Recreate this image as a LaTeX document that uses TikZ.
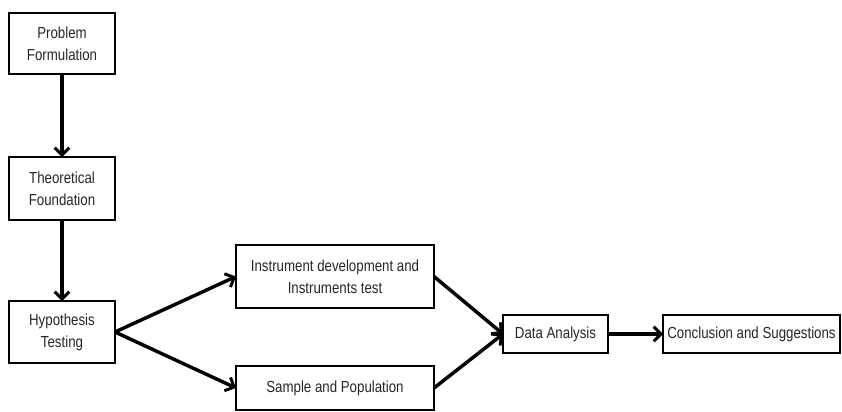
\documentclass[tikz,border=0pt]{standalone}
\usepackage{fontspec}
\setmainfont{Liberation Sans}[FakeStretch=0.83]
\usetikzlibrary{arrows.meta}
\tikzset{
  stage/.style={draw, line width=1.1pt, inner sep=0pt, outer sep=0pt, align=center,
    font=\fontsize{12}{16.5}\selectfont, text=black!85},
  flow/.style={-{Straight Barb[length=5.5pt,width=11pt,line width=2.2pt]}, line width=2.6pt},
}

\begin{document}
\begin{tikzpicture}[x=0.75pt,y=-0.75pt]
\useasboundingbox (0,0) rectangle (842,411);
\node [stage, minimum width=79.5pt, minimum height=45.75pt] (problem) at (62,43.5) {Problem\\Formulation};
\node [stage, minimum width=79.5pt, minimum height=47.25pt] (theory) at (62,188.5) {Theoretical\\Foundation};
\node [stage, minimum width=79.5pt, minimum height=46.5pt] (hypo) at (62,332) {Hypothesis\\Testing};
\node [stage, minimum width=148.5pt, minimum height=47.25pt] (instr) at (335,276.5) {Instrument development and\\Instruments test};
\node [stage, minimum width=148.5pt, minimum height=33pt] (sample) at (335,388) {Sample and Population};
\node [stage, minimum width=78.75pt, minimum height=28.5pt] (analysis) at (555.5,334) {Data Analysis};
\node [stage, minimum width=132.75pt, minimum height=28.5pt] (concl) at (751.5,334) {Conclusion and Suggestions};
\draw [flow] (problem) -- (theory);
\draw [flow] (theory) -- (hypo);
\draw [flow] (hypo.east) -- (instr.west);
\draw [flow] (hypo.east) -- (sample.west);
\draw [flow] (instr.east) -- (analysis.west);
\draw [flow] (sample.east) -- (analysis.west);
\draw [flow] (analysis) -- (concl);
\end{tikzpicture}
\end{document}
